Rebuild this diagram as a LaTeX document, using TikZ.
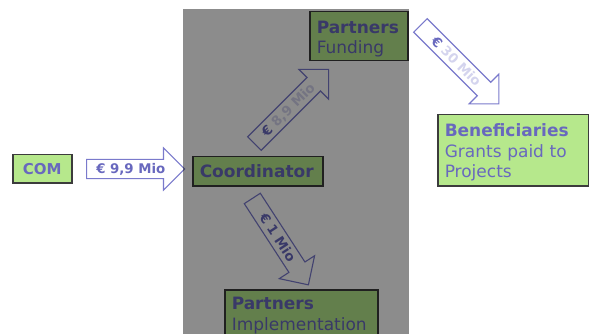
\documentclass[tikz,border=0pt]{standalone}
\usepackage{fontspec}
\setmainfont{DejaVu Sans}
\usetikzlibrary{shapes.arrows}
\definecolor{txtpurple}{HTML}{6868BE}
\definecolor{boxgreen}{HTML}{B6E88C}
\definecolor{boxline}{HTML}{3C3C3C}
\definecolor{arrowline}{HTML}{7A7ACC}
\definecolor{paletxt}{HTML}{D4D4EE}
\begin{document}
\begin{tikzpicture}[x=1pt,y=-1pt,
  box/.style={draw=boxline, line width=1.5pt, fill=boxgreen, text=txtpurple,
    anchor=north west, align=left, inner xsep=7pt, inner ysep=2pt,
    font=\fontsize{17}{20.5}\selectfont},
  tallfirst/.style={text height=18pt},
  flow/.style={single arrow, draw=arrowline, line width=1.1pt, fill=white,
    anchor=tail, single arrow head extend=11.5pt, inner xsep=3pt,
    inner ysep=4.25pt, text height=9.5pt, text depth=0pt,
    font=\bfseries\fontsize{13.3}{15}\selectfont, text=txtpurple}]
\useasboundingbox (0,0) rectangle (589,334);
\clip (0,0) rectangle (589,334);
\fill[white] (0,0) rectangle (589,334);

% boxes
\node[box, align=center, minimum width=59pt, minimum height=28pt,
  font=\bfseries\fontsize{15}{17}\selectfont] (com) at (12,154) {COM};
\node[box, minimum width=130pt, minimum height=29pt, text width=116pt]
  (coord) at (192,156) {\textbf{Coordinator}};
\node[box, tallfirst, minimum width=98pt, minimum height=49pt, text width=84pt]
  (fund) at (309,11) {\textbf{Partners}\\Funding};
\node[box, tallfirst, minimum width=151pt, minimum height=71pt, text width=137pt]
  (benef) at (437,114) {\textbf{Beneficiaries}\\Grants paid to\\Projects};
\node[box, tallfirst, minimum width=153pt, text width=139pt, text depth=25pt]
  (impl) at (224,289) {\textbf{Partners}\\Implementation};

% money flows
\node[flow, minimum height=98pt] (a1) at (86,169) {€ 9,9 Mio};
\node[flow, rotate=45, minimum height=105pt] (a2) at (254,144)
  {€ {\color{paletxt}8,9 Mio}};
\node[flow, rotate=-45, minimum height=111pt] (a3) at (420,25)
  {€ {\color{paletxt}30 Mio}};
\node[flow, rotate=-57, minimum height=103pt] (a4) at (252,198) {€ 1 Mio};

% shaded consortium area
\fill[black, opacity=0.45] (183,9) rectangle (409,340);
\end{tikzpicture}
\end{document}
